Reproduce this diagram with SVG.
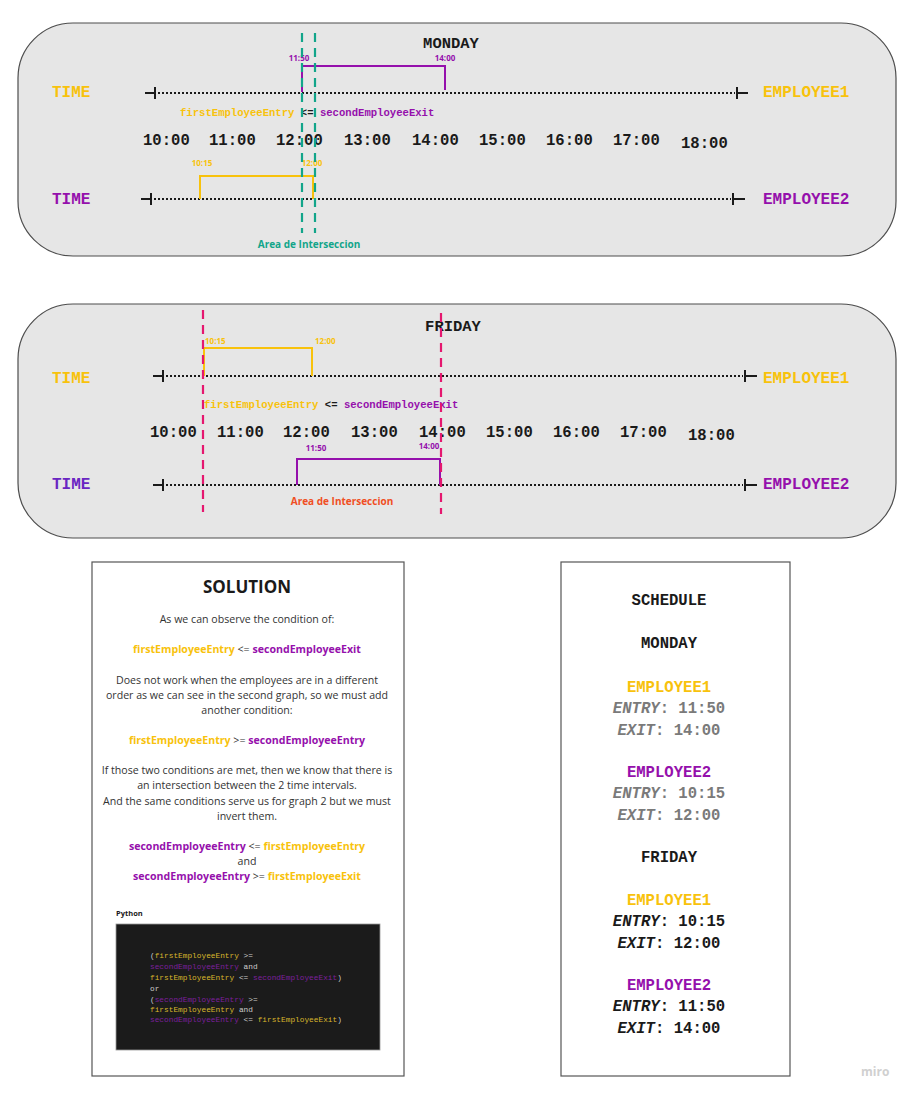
<svg xmlns="http://www.w3.org/2000/svg" width="911" height="1097" viewBox="0 0 911 1097">
<style>
.panel{fill:#e6e6e6;stroke:#4d4d4d;stroke-width:1.2}
.box{fill:#ffffff;stroke:#555555;stroke-width:1.2}
.mono{font-family:"Liberation Mono","DejaVu Sans Mono",monospace;font-weight:bold}
.sans{font-family:"Open Sans","Noto Sans","Liberation Sans",sans-serif}
.title{font-size:15.5px;fill:#1a1a1a}
.lbl{font-size:16px}
.hour{font-size:15.6px;fill:#1a1a1a}
.cond{font-size:10.6px}
.small{font-size:8px;font-weight:bold}
.y{fill:#f8c20c}
.p{fill:#9510ac}
.k{fill:#1a1a1a}
.axis{stroke:#1a1a1a;stroke-width:2;stroke-dasharray:2 2;fill:none}
.cap{stroke:#1a1a1a;stroke-width:2;fill:none}
.bry{stroke:#f8c20c;stroke-width:2;fill:none}
.brp{stroke:#9510ac;stroke-width:2;fill:none}
.gd{stroke:#12a58a;stroke-width:2.2;stroke-dasharray:9 6;fill:none}
.rd{stroke:#e5176f;stroke-width:2.2;stroke-dasharray:9 6;fill:none}
.body{font-size:10.6px;fill:#333333}
.bold{font-weight:bold}
.code{font-family:"Liberation Mono","DejaVu Sans Mono",monospace;font-size:7.8px;fill:#cccccc}
.cy{fill:#d9b62c}
.cp{fill:#7d1f9e}
.sch{font-size:15.6px}
.gr{fill:#7a7a7a}
</style>

<g id="panel-monday">
<rect class="panel" x="18" y="23" width="878" height="233" rx="55" ry="55"/>
<text class="mono title" x="451" y="48" text-anchor="middle">MONDAY</text>
<text class="mono lbl y" x="52" y="97">TIME</text>
<text class="mono lbl y" x="763" y="97">EMPLOYEE1</text>
<text class="mono lbl p" x="52" y="204">TIME</text>
<text class="mono lbl p" x="763" y="204">EMPLOYEE2</text>
<text class="mono cond" x="180" y="116"><tspan class="y">firstEmployeeEntry</tspan><tspan class="k"> &lt;= </tspan><tspan class="p">secondEmployeeExit</tspan></text>
<g class="mono hour">
<text x="143" y="145">10:00</text>
<text x="209" y="145">11:00</text>
<text x="276" y="145">12:00</text>
<text x="344" y="145">13:00</text>
<text x="412" y="145">14:00</text>
<text x="479" y="145">15:00</text>
<text x="546" y="145">16:00</text>
<text x="613" y="145">17:00</text>
<text x="681" y="148">18:00</text>
</g>
<text class="sans small p" x="299" y="61" text-anchor="middle">11:50</text>
<text class="sans small p" x="445" y="61" text-anchor="middle">14:00</text>
<text class="sans small y" x="202" y="166" text-anchor="middle">10:15</text>
<text class="sans small y" x="312" y="166" text-anchor="middle">12:00</text>
<text class="sans" x="309" y="248" text-anchor="middle" font-size="10px" font-weight="bold" fill="#12a58a">Area de Interseccion</text>
</g>

<g id="panel-friday">
<rect class="panel" x="18" y="304" width="878" height="234" rx="55" ry="55"/>
<text class="mono title" x="453" y="331" text-anchor="middle">FRIDAY</text>
<text class="mono lbl y" x="52" y="383">TIME</text>
<text class="mono lbl y" x="763" y="383">EMPLOYEE1</text>
<text class="mono lbl" fill="#6a26c2" x="52" y="489">TIME</text>
<text class="mono lbl p" x="763" y="489">EMPLOYEE2</text>
<text class="mono cond" x="204" y="408"><tspan class="y">firstEmployeeEntry</tspan><tspan class="k"> &lt;= </tspan><tspan class="p">secondEmployeeExit</tspan></text>
<g class="mono hour">
<text x="150" y="437">10:00</text>
<text x="217" y="437">11:00</text>
<text x="283" y="437">12:00</text>
<text x="351" y="437">13:00</text>
<text x="419" y="437">14:00</text>
<text x="486" y="437">15:00</text>
<text x="553" y="437">16:00</text>
<text x="620" y="437">17:00</text>
<text x="688" y="440">18:00</text>
</g>
<text class="sans small y" x="205" y="344">10:15</text>
<text class="sans small y" x="315" y="344">12:00</text>
<text class="sans small p" x="316" y="451" text-anchor="middle">11:50</text>
<text class="sans small p" x="429" y="449" text-anchor="middle">14:00</text>
<text class="sans" x="342" y="505" text-anchor="middle" font-size="10px" font-weight="bold" fill="#f04e23">Area de Interseccion</text>
</g>

<g id="connectors">
<path class="cap" d="M145 93 H155 M155 87 V99"/>
<path class="axis" d="M158 93 H735"/>
<path class="cap" d="M737 87 V99 M737 93 H748"/>
<path class="cap" d="M141 199 H151 M151 193 V205"/>
<path class="axis" d="M154 199 H731"/>
<path class="cap" d="M733 193 V205 M733 199 H745"/>
<path class="brp" d="M302 92 V66 H445 V90"/>
<path class="bry" d="M200 199 V176 H313 V199"/>
<path class="gd" d="M302 33 V233"/>
<path class="gd" d="M315 33 V233"/>

<path class="cap" d="M153 376 H163 M163 370 V382"/>
<path class="axis" d="M166 376 H743"/>
<path class="cap" d="M745 370 V382 M745 376 H757"/>
<path class="cap" d="M153 485 H163 M163 479 V491"/>
<path class="axis" d="M166 485 H743"/>
<path class="cap" d="M745 479 V491 M745 485 H757"/>
<path class="bry" d="M204 376 V348 H312 V376"/>
<path class="brp" d="M297 485 V459 H440 V485"/>
<path class="rd" d="M203 310 V512"/>
<path class="rd" d="M441 313 V514"/>
</g>

<g id="solution">
<rect class="box" x="92" y="562" width="312" height="514"/>
<text class="sans" x="247" y="593" text-anchor="middle" font-size="17px" font-weight="bold" fill="#1a1a1a">SOLUTION</text>
<g class="sans body" text-anchor="middle">
<text x="247" y="623">As we can observe the condition of:</text>
<text x="247" y="653"><tspan class="y bold">firstEmployeeEntry</tspan> &lt;= <tspan class="p bold">secondEmployeeExit</tspan></text>
<text x="247" y="684">Does not work when the employees are in a different</text>
<text x="247" y="699">order as we can see in the second graph, so we must add</text>
<text x="247" y="714">another condition:</text>
<text x="247" y="744"><tspan class="y bold">firstEmployeeEntry</tspan> &gt;= <tspan class="p bold">secondEmployeeEntry</tspan></text>
<text x="247" y="774">If those two conditions are met, then we know that there is</text>
<text x="247" y="789">an intersection between the 2 time intervals.</text>
<text x="247" y="805">And the same conditions serve us for graph 2 but we must</text>
<text x="247" y="820">invert them.</text>
<text x="247" y="850"><tspan class="p bold">secondEmployeeEntry</tspan> &lt;= <tspan class="y bold">firstEmployeeEntry</tspan></text>
<text x="247" y="865">and</text>
<text x="247" y="880"><tspan class="p bold">secondEmployeeEntry</tspan> &gt;= <tspan class="y bold">firstEmployeeExit</tspan></text>
</g>
<text class="sans" x="116" y="916" font-size="7.5px" font-weight="bold" fill="#1a1a1a">Python</text>
<rect x="116" y="924" width="264" height="126" fill="#1b1b1b" stroke="#9a9a9a" stroke-width="0.8"/>
<g class="code">
<text x="150" y="958">(<tspan class="cy">firstEmployeeEntry</tspan> &gt;=</text>
<text x="150" y="969"><tspan class="cp">secondEmployeeEntry</tspan> and</text>
<text x="150" y="980"><tspan class="cy">firstEmployeeEntry</tspan> &lt;= <tspan class="cp">secondEmployeeExit</tspan>)</text>
<text x="150" y="991">or</text>
<text x="150" y="1002">(<tspan class="cp">secondEmployeeEntry</tspan> &gt;=</text>
<text x="150" y="1012"><tspan class="cy">firstEmployeeEntry</tspan> and</text>
<text x="150" y="1022"><tspan class="cp">secondEmployeeEntry</tspan> &lt;= <tspan class="cy">firstEmployeeExit</tspan>)</text>
</g>
</g>

<g id="schedule">
<rect class="box" x="561" y="562" width="229" height="514"/>
<g class="mono sch" text-anchor="middle">
<text x="669" y="605" class="k">SCHEDULE</text>
<text x="669" y="648" class="k">MONDAY</text>
<text x="669" y="692" class="y">EMPLOYEE1</text>
<text x="669" y="713" class="gr"><tspan font-style="italic">ENTRY</tspan>: 11:50</text>
<text x="669" y="735" class="gr"><tspan font-style="italic">EXIT</tspan>: 14:00</text>
<text x="669" y="777" class="p">EMPLOYEE2</text>
<text x="669" y="798" class="gr"><tspan font-style="italic">ENTRY</tspan>: 10:15</text>
<text x="669" y="820" class="gr"><tspan font-style="italic">EXIT</tspan>: 12:00</text>
<text x="669" y="862" class="k">FRIDAY</text>
<text x="669" y="905" class="y">EMPLOYEE1</text>
<text x="669" y="926" class="k"><tspan font-style="italic">ENTRY</tspan>: 10:15</text>
<text x="669" y="948" class="k"><tspan font-style="italic">EXIT</tspan>: 12:00</text>
<text x="669" y="990" class="p">EMPLOYEE2</text>
<text x="669" y="1011" class="k"><tspan font-style="italic">ENTRY</tspan>: 11:50</text>
<text x="669" y="1033" class="k"><tspan font-style="italic">EXIT</tspan>: 14:00</text>
</g>
</g>

<text class="sans" x="861" y="1076" font-size="12px" font-weight="bold" fill="#d0d0d0">miro</text>
</svg>
